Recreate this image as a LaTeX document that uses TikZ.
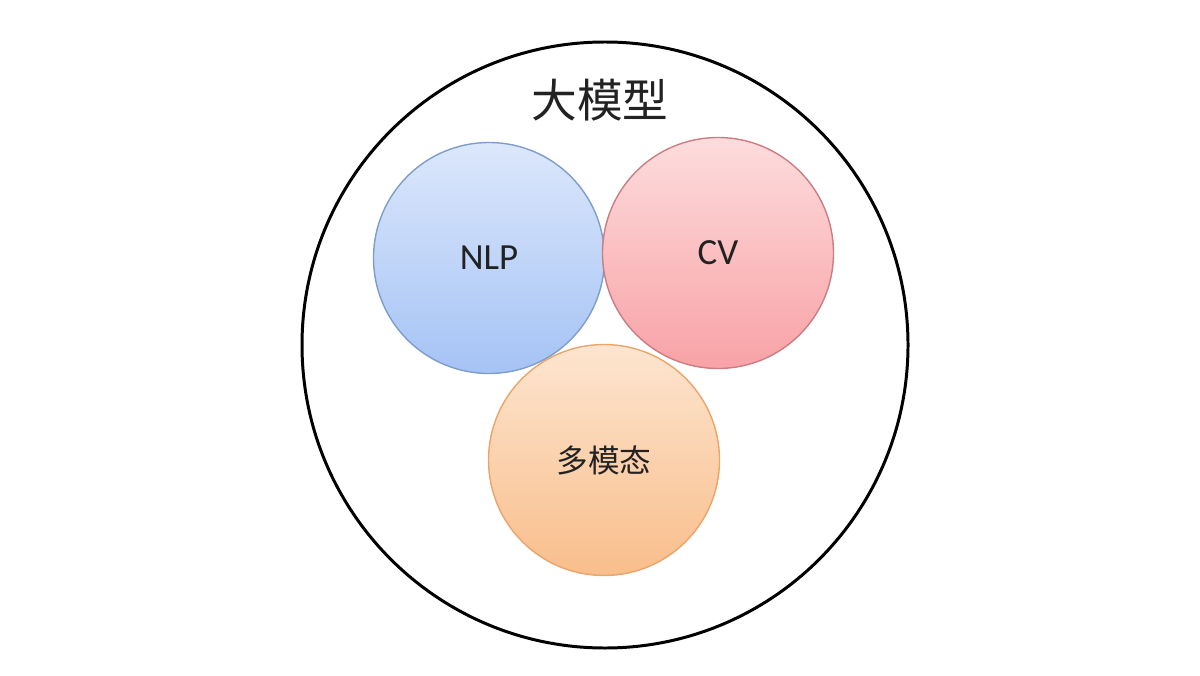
\documentclass[tikz,border=0pt]{standalone}
\usepackage{fontspec}
\setmainfont{Carlito}
\newfontfamily\cjk{Noto Sans CJK SC}
\usetikzlibrary{positioning}
\definecolor{ink}{HTML}{222222}
\definecolor{blueTop}{HTML}{DCE7FB}
\definecolor{blueBot}{HTML}{A5C3F5}
\definecolor{blueLine}{HTML}{7F9DCB}
\definecolor{redTop}{HTML}{FDDCDD}
\definecolor{redBot}{HTML}{F8A2A6}
\definecolor{redLine}{HTML}{C97E83}
\definecolor{orTop}{HTML}{FDE5D0}
\definecolor{orBot}{HTML}{F9BE8B}
\definecolor{orLine}{HTML}{E9A56C}

\begin{document}
\begin{tikzpicture}[
  outer/.style={draw=black, line width=1.7pt, circle, minimum size=12.12cm, inner sep=0pt},
  bubble/.style={circle, minimum size=4.62cm, inner sep=0pt, line width=0.8pt,
           text=ink, font=\fontsize{21}{24}\selectfont, shading=axis},
  title/.style={text=ink, font=\cjk\fontsize{26}{30}\selectfont}
]
  \useasboundingbox (0,0) rectangle (24,13.5);

  \node[outer] (LM) at (12.1,6.6) {};
  \node[title] (T) at (12.0,11.5) {大模型};

  \node[bubble, draw=blueLine, top color=blueTop, bottom color=blueBot] (NLP) at (9.78,8.34) {NLP};
  \node[bubble, draw=redLine, top color=redTop, bottom color=redBot] (CV) at (14.36,8.44) {CV};
  \node[bubble, draw=orLine, top color=orTop, bottom color=orBot,
        font=\cjk\fontsize{18}{22}\selectfont] (MM) at (12.08,4.3) {多模态};
\end{tikzpicture}
\end{document}
